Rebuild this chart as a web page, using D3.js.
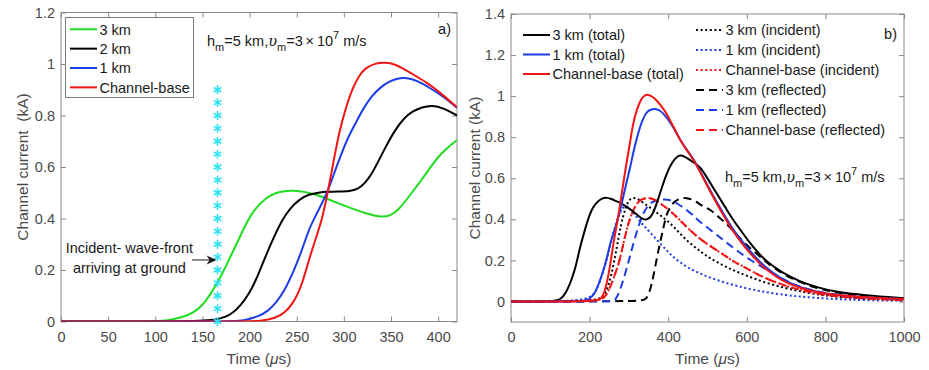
<!DOCTYPE html>
<html>
<head>
  <title>Channel current</title>
  <script src="https://cdn.jsdelivr.net/npm/d3@7/dist/d3.min.js"></script>
  <style>
    body { margin: 0; background: #fff; }
    svg { font-family: "Liberation Sans", Arial, sans-serif; }
    .tick text { fill: #4a4a4a; font-size: 14.5px; }
    .tick line { stroke: #8a8a8a; }
  </style>
</head>
<body>
  <svg width="929" height="370"></svg>
  <script>
    const svg = d3.select('svg');

    // ---- panel a) data (time in us, current in kA)
    const aGreenT = [0, 100, 115, 130, 140, 150, 157, 166, 175, 182, 190, 197, 205, 217, 228, 237, 246, 255, 263, 273, 283, 295, 312, 325, 340, 350, 358, 368, 383, 392, 401, 410, 420];
    const aGreenV = [0, 0, 0.005, 0.018, 0.033, 0.062, 0.098, 0.15, 0.215, 0.27, 0.33, 0.385, 0.435, 0.48, 0.5, 0.507, 0.508, 0.505, 0.5, 0.49, 0.475, 0.458, 0.434, 0.418, 0.404, 0.412, 0.434, 0.48, 0.553, 0.6, 0.644, 0.675, 0.705];
    const aBlackT = [0, 150, 165, 175, 182, 190, 200, 208, 217, 226, 235, 243, 253, 263, 273, 283, 295, 306, 315, 322, 330, 337, 346, 355, 364, 372, 383, 394, 405, 420];
    const aBlackV = [0, 0, 0.007, 0.018, 0.033, 0.06, 0.11, 0.17, 0.254, 0.33, 0.397, 0.44, 0.475, 0.494, 0.501, 0.504, 0.505, 0.506, 0.514, 0.535, 0.575, 0.625, 0.69, 0.748, 0.79, 0.815, 0.833, 0.84, 0.83, 0.8];
    const aBlueT = [0, 180, 193, 210, 220, 228, 237, 246, 255, 263, 270, 283, 290, 298, 305, 313, 321, 330, 339, 348, 356, 364, 373, 383, 392, 401, 410, 420];
    const aBlueV = [0, 0, 0.003, 0.02, 0.042, 0.072, 0.12, 0.189, 0.27, 0.36, 0.41, 0.503, 0.58, 0.657, 0.72, 0.774, 0.83, 0.878, 0.91, 0.932, 0.943, 0.947, 0.942, 0.925, 0.905, 0.884, 0.86, 0.83];
    const aRedT = [0, 200, 210, 228, 238, 246, 251, 256, 263, 270, 277, 283, 289, 295, 302, 309, 316, 323, 333, 344, 354, 365, 377, 390, 405, 420];
    const aRedV = [0, 0, 0.001, 0.013, 0.035, 0.072, 0.105, 0.15, 0.24, 0.32, 0.397, 0.503, 0.62, 0.735, 0.83, 0.904, 0.955, 0.985, 1.003, 1.006, 1.0, 0.978, 0.952, 0.923, 0.88, 0.832];
    const aLabels = ['3 km', '2 km', '1 km', 'Channel-base'];
    // incident wave-front markers
    const frontT = 166;
    const frontV = d3.range(0, 19).map(i => i * 0.05);

    // ---- panel b) data
    const bTot3T = [0, 110, 125, 140, 155, 165, 175, 188, 200, 209, 220, 232, 243, 255, 268, 281, 295, 310, 325, 336, 345, 355, 362, 375, 387, 400, 410, 421, 430, 440, 455, 470, 481, 500, 523, 545, 565, 587, 608, 630, 650, 690, 735, 780, 820, 900, 1000];
    const bTot3V = [0, 0, 0.008, 0.04, 0.11, 0.17, 0.26, 0.35, 0.425, 0.46, 0.487, 0.503, 0.506, 0.5, 0.488, 0.478, 0.46, 0.44, 0.415, 0.4, 0.397, 0.41, 0.43, 0.5, 0.575, 0.64, 0.678, 0.703, 0.713, 0.708, 0.69, 0.67, 0.656, 0.6, 0.527, 0.46, 0.397, 0.34, 0.284, 0.235, 0.194, 0.14, 0.097, 0.068, 0.049, 0.03, 0.016];
    const bTot1T = [0, 180, 192, 205, 215, 226, 235, 244, 252, 262, 272, 280, 290, 303, 315, 328, 337, 345, 355, 366, 378, 390, 404, 418, 430, 447, 465, 481, 500, 523, 545, 565, 587, 608, 630, 650, 690, 735, 780, 820, 900, 1000];
    const bTot1V = [0, 0, 0.005, 0.02, 0.045, 0.1, 0.15, 0.21, 0.28, 0.34, 0.4, 0.46, 0.55, 0.65, 0.76, 0.85, 0.895, 0.922, 0.935, 0.94, 0.932, 0.912, 0.875, 0.832, 0.786, 0.74, 0.692, 0.636, 0.565, 0.485, 0.413, 0.35, 0.295, 0.245, 0.2, 0.162, 0.106, 0.068, 0.046, 0.033, 0.02, 0.012];
    const bTotCT = [0, 210, 226, 235, 243, 252, 260, 270, 280, 290, 298, 305, 311, 320, 332, 340, 349, 358, 370, 385, 396, 404, 418, 430, 447, 465, 481, 500, 523, 545, 565, 587, 608, 630, 650, 690, 735, 780, 820, 900, 1000];
    const bTotCV = [0, 0, 0.008, 0.03, 0.08, 0.17, 0.28, 0.38, 0.5, 0.63, 0.72, 0.8, 0.87, 0.935, 0.99, 1.004, 1.008, 1.0, 0.982, 0.945, 0.916, 0.883, 0.835, 0.786, 0.737, 0.69, 0.632, 0.56, 0.478, 0.405, 0.34, 0.285, 0.235, 0.19, 0.154, 0.1, 0.065, 0.045, 0.033, 0.02, 0.012];
    const bInc3T = [0, 225, 240, 255, 268, 280, 292, 300, 311, 325, 340, 360, 379, 400, 421, 440, 464, 485, 506, 540, 565, 600, 650, 700, 735, 780, 820, 900, 1000];
    const bInc3V = [0, 0, 0.03, 0.12, 0.25, 0.38, 0.46, 0.495, 0.507, 0.498, 0.475, 0.45, 0.42, 0.39, 0.35, 0.31, 0.27, 0.24, 0.21, 0.175, 0.152, 0.125, 0.089, 0.065, 0.049, 0.034, 0.024, 0.013, 0.006];
    const bInc1T = [0, 192, 215, 235, 252, 265, 278, 290, 300, 320, 336, 357, 379, 400, 421, 445, 470, 500, 550, 600, 650, 700, 735, 780, 820, 900, 1000];
    const bInc1V = [0, 0, 0.04, 0.14, 0.27, 0.37, 0.44, 0.47, 0.46, 0.41, 0.373, 0.33, 0.284, 0.24, 0.203, 0.17, 0.146, 0.12, 0.088, 0.063, 0.044, 0.031, 0.024, 0.017, 0.012, 0.006, 0.003];
    const bIncCT = [0, 225, 240, 255, 266, 277, 290, 303, 316, 328, 349, 365, 379, 400, 421, 442, 464, 481, 506, 540, 565, 582, 610, 650, 700, 735, 780, 820, 900, 1000];
    const bIncCV = [0, 0, 0.02, 0.08, 0.14, 0.2, 0.32, 0.41, 0.465, 0.497, 0.507, 0.497, 0.478, 0.45, 0.413, 0.372, 0.332, 0.305, 0.27, 0.23, 0.195, 0.18, 0.15, 0.11, 0.075, 0.057, 0.038, 0.026, 0.013, 0.006];
    const bRef3T = [0, 330, 345, 355, 362, 370, 379, 388, 396, 410, 425, 447, 470, 481, 506, 523, 548, 565, 587, 608, 630, 650, 690, 735, 780, 820, 900, 1000];
    const bRef3V = [0, 0, 0.01, 0.06, 0.12, 0.2, 0.284, 0.36, 0.43, 0.478, 0.5, 0.507, 0.49, 0.47, 0.45, 0.42, 0.38, 0.345, 0.3, 0.26, 0.225, 0.19, 0.135, 0.093, 0.064, 0.046, 0.024, 0.012];
    const bRef1T = [0, 258, 265, 275, 290, 300, 311, 324, 336, 350, 362, 380, 404, 430, 464, 470, 506, 540, 573, 610, 650, 700, 735, 780, 820, 900, 1000];
    const bRef1V = [0, 0, 0.005, 0.04, 0.13, 0.2, 0.28, 0.365, 0.43, 0.472, 0.488, 0.496, 0.498, 0.47, 0.42, 0.405, 0.35, 0.3, 0.25, 0.2, 0.155, 0.1, 0.07, 0.048, 0.034, 0.018, 0.008];
    // channel-base reflected equals channel-base incident
    const bRefCT = bIncCT;
    const bRefCV = bIncCV;

    const aXTicks = d3.range(0, 401, 50);
    const aYTicks = [0, 0.2, 0.4, 0.6, 0.8, 1, 1.2];
    const bXTicks = d3.range(0, 1001, 200);
    const bYTicks = [0, 0.2, 0.4, 0.6, 0.8, 1, 1.2, 1.4];

    const GREEN = '#1edc1e', BLACK = '#000000', BLUE = '#1c3ce6', RED = '#f01414', CYAN = '#2ee3f0';
    const BOX = '#8a8a8a';
    const DOT = '2,2.6', DASH = '8,5';

    const zip = (t, v) => t.map((d, i) => [d, v[i]]);

    function panel(id, xDom, yDom, xr, yr, xTicks, yTicks) {
      const x = d3.scaleLinear().domain(xDom).range(xr);
      const y = d3.scaleLinear().domain(yDom).range(yr);
      const g = svg.append('g');
      const fmt = d => String(+d.toFixed(1));

      g.append('g').attr('transform', `translate(0,${yr[0]})`)
        .call(d3.axisBottom(x).tickValues(xTicks).tickFormat(fmt).tickSizeInner(-5).tickSizeOuter(0).tickPadding(10))
        .call(s => s.select('.domain').remove());
      g.append('g').attr('transform', `translate(0,${yr[1]})`)
        .call(d3.axisTop(x).tickValues(xTicks).tickFormat('').tickSizeInner(-5).tickSizeOuter(0))
        .call(s => s.select('.domain').remove());
      g.append('g').attr('transform', `translate(${xr[0]},0)`)
        .call(d3.axisLeft(y).tickValues(yTicks).tickFormat(fmt).tickSizeInner(-5).tickSizeOuter(0).tickPadding(6))
        .call(s => s.select('.domain').remove());
      g.append('g').attr('transform', `translate(${xr[1]},0)`)
        .call(d3.axisRight(y).tickValues(yTicks).tickFormat('').tickSizeInner(-5).tickSizeOuter(0))
        .call(s => s.select('.domain').remove());

      g.append('rect')
        .attr('x', xr[0]).attr('y', yr[1])
        .attr('width', xr[1] - xr[0]).attr('height', yr[0] - yr[1])
        .attr('fill', 'none').attr('stroke', BOX).attr('stroke-width', 1);

      svg.append('clipPath').attr('id', id)
        .append('rect').attr('x', xr[0]).attr('y', yr[1])
        .attr('width', xr[1] - xr[0]).attr('height', yr[0] - yr[1]);

      const plot = g.append('g').attr('clip-path', `url(#${id})`);
      const line = d3.line().x(d => x(d[0])).y(d => y(d[1])).curve(d3.curveBasis);

      function curve(t, v, color, dash) {
        plot.append('path')
          .datum(zip(t, v))
          .attr('d', line)
          .attr('fill', 'none')
          .attr('stroke', color)
          .attr('stroke-width', 2)
          .attr('stroke-dasharray', dash || null);
      }

      // axis titles
      g.append('text')
        .attr('x', (xr[0] + xr[1]) / 2).attr('y', 364)
        .attr('text-anchor', 'middle').attr('font-size', 15.5).attr('fill', '#4a4a4a')
        .call(t => {
          t.append('tspan').text('Time (');
          t.append('tspan').attr('font-style', 'italic').text('μ');
          t.append('tspan').text('s)');
        });

      return { g, x, y, curve };
    }

    function paramText(g, px, py) {
      const t = g.append('text').attr('x', px).attr('y', py)
        .attr('font-size', 14.5).attr('fill', '#1a1a1a');
      t.append('tspan').text('h');
      t.append('tspan').attr('font-size', 11).attr('dy', 5).text('m');
      t.append('tspan').attr('dy', -5).text('=5 km,');
      t.append('tspan').attr('font-style', 'italic').attr('font-family', '"DejaVu Serif", serif').text('υ');
      t.append('tspan').attr('font-size', 11).attr('dy', 5).text('m');
      t.append('tspan').attr('dy', -5).text('=3\u2009×\u200910');
      t.append('tspan').attr('font-size', 11).attr('dy', -7).text('7');
      t.append('tspan').attr('dy', 7).text(' m/s');
    }

    // ---------- panel a
    const A = panel('clipA', [0, 420], [0, 1.2], [61, 457], [321.5, 12.5], aXTicks, aYTicks);
    A.curve(aGreenT, aGreenV, GREEN);
    A.curve(aBlackT, aBlackV, BLACK);
    A.curve(aBlueT, aBlueV, BLUE);
    A.curve(aRedT, aRedV, RED);

    A.g.selectAll('.front')
      .data(frontV)
      .join('path')
      .attr('class', 'front')
      .attr('transform', d => `translate(${A.x(frontT)},${A.y(d)})`)
      .attr('d', d3.symbol(d3.symbolAsterisk, 55))
      .attr('fill', 'none')
      .attr('stroke', CYAN)
      .attr('stroke-width', 1.6);

    A.g.append('text')
      .attr('transform', 'translate(23,167) rotate(-90)')
      .attr('dy', '0.35em')
      .attr('text-anchor', 'middle').attr('font-size', 15.5).attr('fill', '#4a4a4a')
      .style('white-space', 'pre')
      .text('Channel current  (kA)');

    // annotation
    const noteX = 72.5, noteY1 = 0.267, noteY2 = 0.189;
    const arrow = { t0: 139, t1: 165, v: 0.239 };
    A.g.append('text').attr('x', A.x(noteX)).attr('y', A.y(noteY1))
      .attr('text-anchor', 'middle').attr('font-size', 14.5).attr('fill', '#1a1a1a')
      .text('Incident- wave-front');
    A.g.append('text').attr('x', A.x(noteX)).attr('y', A.y(noteY2))
      .attr('text-anchor', 'middle').attr('font-size', 14.5).attr('fill', '#1a1a1a')
      .text('arriving at ground');
    A.g.append('line')
      .attr('x1', A.x(arrow.t0)).attr('x2', A.x(arrow.t1) - 6)
      .attr('y1', A.y(arrow.v)).attr('y2', A.y(arrow.v))
      .attr('stroke', '#1a1a1a').attr('stroke-width', 1);
    A.g.append('path')
      .attr('d', `M${A.x(arrow.t1)},${A.y(arrow.v)} l-10,-4.5 l3,4.5 l-3,4.5 z`)
      .attr('fill', '#1a1a1a');

    paramText(A.g, 207, 46);
    A.g.append('text').attr('x', 451).attr('y', 34).attr('text-anchor', 'end')
      .attr('font-size', 14.5).attr('fill', '#1a1a1a').text('a)');

    // legend a
    const legA = A.g.append('g');
    legA.append('rect').attr('x', 65.5).attr('y', 17.5).attr('width', 128).attr('height', 80)
      .attr('fill', '#fff').attr('stroke', '#7a7a7a').attr('stroke-width', 1);
    [GREEN, BLACK, BLUE, RED].forEach((c, i) => {
      const yy = 29.3 + i * 19.35;
      legA.append('line').attr('x1', 70).attr('x2', 97).attr('y1', yy).attr('y2', yy)
        .attr('stroke', c).attr('stroke-width', 2);
      legA.append('text').attr('x', 99.5).attr('y', yy).attr('dy', '0.36em')
        .attr('font-size', 14.5).attr('fill', '#1a1a1a').text(aLabels[i]);
    });

    // ---------- panel b
    const B = panel('clipB', [0, 1000], [-0.1, 1.4], [511, 904], [322, 14], bXTicks, bYTicks);
    B.curve(bInc3T, bInc3V, BLACK, DOT);
    B.curve(bInc1T, bInc1V, BLUE, DOT);
    B.curve(bIncCT, bIncCV, RED, DOT);
    B.curve(bRef3T, bRef3V, BLACK, DASH);
    B.curve(bRef1T, bRef1V, BLUE, DASH);
    B.curve(bRefCT, bRefCV, RED, DASH);
    B.curve(bTot3T, bTot3V, BLACK);
    B.curve(bTot1T, bTot1V, BLUE);
    B.curve(bTotCT, bTotCV, RED);

    B.g.append('text')
      .attr('transform', 'translate(475,168) rotate(-90)')
      .attr('dy', '0.35em')
      .attr('text-anchor', 'middle').attr('font-size', 15.5).attr('fill', '#4a4a4a')
      .text('Channel current (kA)');

    paramText(B.g, 725, 182);
    B.g.append('text').attr('x', 897).attr('y', 39).attr('text-anchor', 'end')
      .attr('font-size', 14.5).attr('fill', '#1a1a1a').text('b)');

    const legB1 = [
      ['3 km (total)', BLACK, null],
      ['1 km (total)', BLUE, null],
      ['Channel-base (total)', RED, null]
    ];
    const legB2 = [
      ['3 km (incident)', BLACK, DOT],
      ['1 km (incident)', BLUE, DOT],
      ['Channel-base (incident)', RED, DOT],
      ['3 km (reflected)', BLACK, DASH],
      ['1 km (reflected)', BLUE, DASH],
      ['Channel-base (reflected)', RED, DASH]
    ];
    function legend(items, lx, ly, step) {
      items.forEach((it, i) => {
        const yy = ly + i * step;
        B.g.append('line').attr('x1', lx).attr('x2', lx + 27).attr('y1', yy).attr('y2', yy)
          .attr('stroke', it[1]).attr('stroke-width', 2).attr('stroke-dasharray', it[2]);
        B.g.append('text').attr('x', lx + 29.5).attr('y', yy).attr('dy', '0.36em')
          .attr('font-size', 14.5).attr('fill', '#1a1a1a').text(it[0]);
      });
    }
    legend(legB1, 523, 35, 19.5);
    legend(legB2, 696, 30, 20);
  </script>
</body>
</html>
